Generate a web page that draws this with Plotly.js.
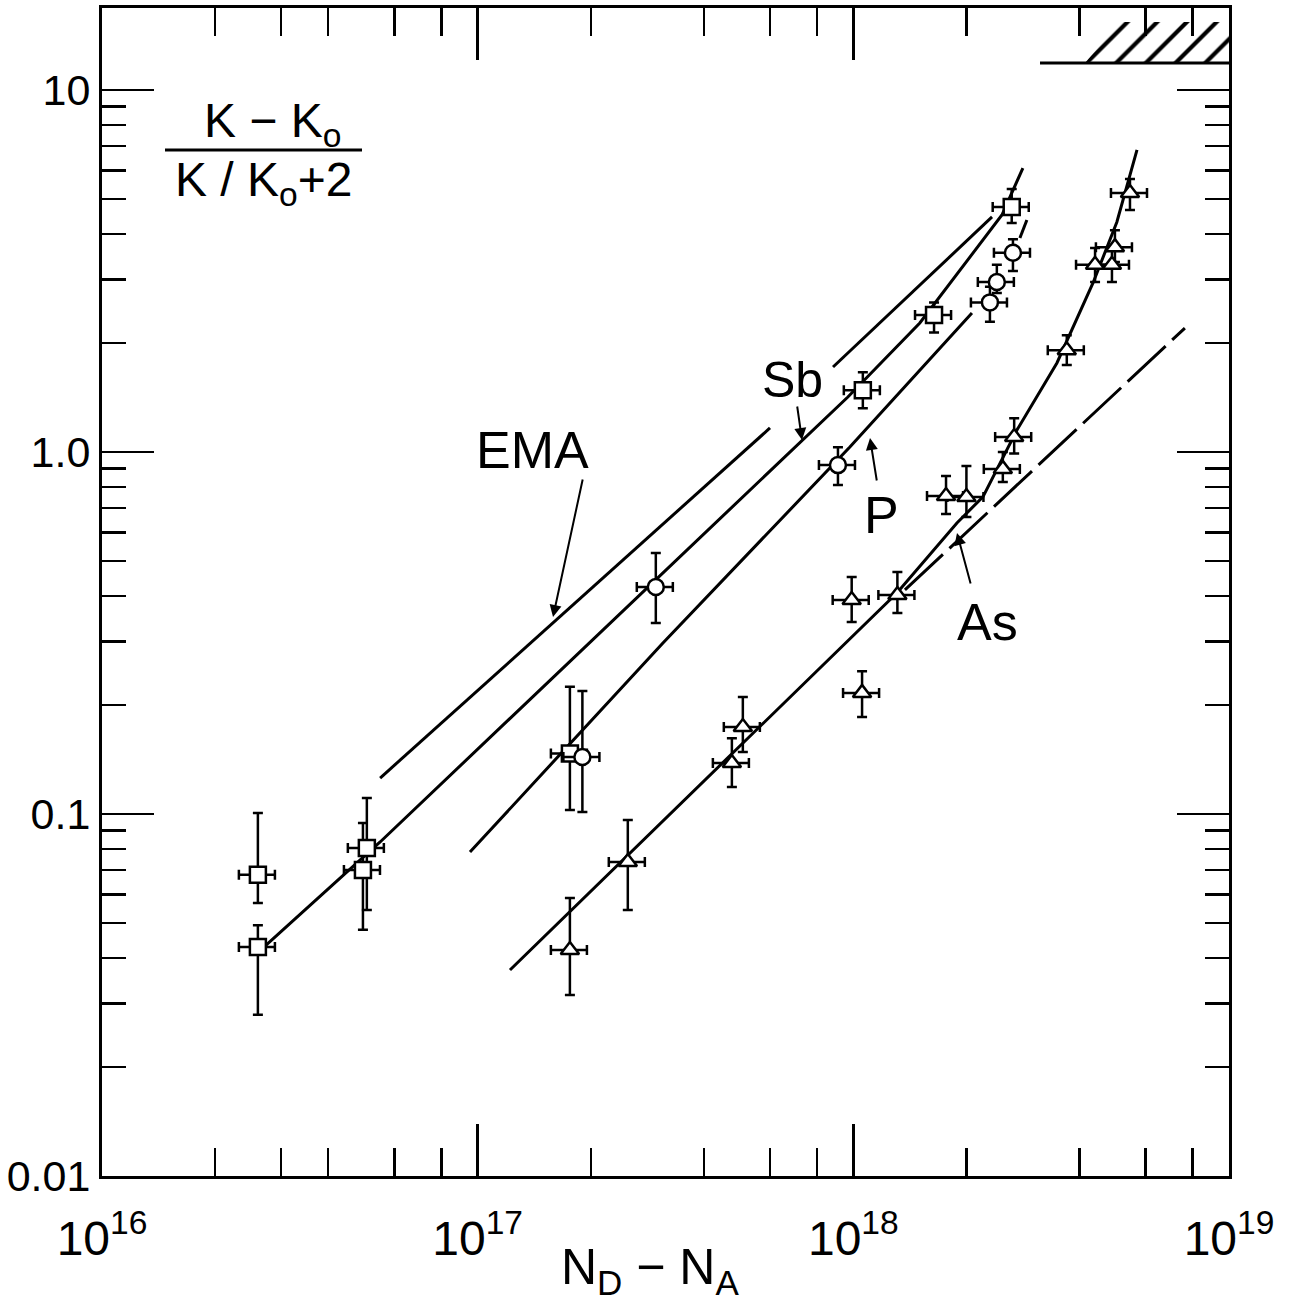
<!DOCTYPE html>
<html>
<head>
<meta charset="utf-8">
<script src="https://cdn.plot.ly/plotly-3.0.1.min.js"></script>
<style>html,body{margin:0;padding:0;background:#fff;}#chart{width:1292px;height:1305px;}</style>
</head>
<body>
<div id="chart"></div>
<script>
// ---- Sb (squares)
var sbX  = [2.6e16, 2.6e16, 4.95e16, 5.07e16, 1.76e17, 1.06e18, 1.64e18, 2.64e18];
var sbY  = [0.0679, 0.0429, 0.070, 0.0805, 0.147, 1.48, 2.39, 4.75];
var sbHi = [0.1007, 0.0493, 0.0944, 0.1107, 0.2245, 1.66, 2.59, 5.33];
var sbLo = [0.0568, 0.0279, 0.0479, 0.0543, 0.1026, 1.32, 2.14, 4.29];
// ---- P (circles)
var pX  = [1.90e17, 2.98e17, 9.1e17, 2.31e18, 2.41e18, 2.66e18];
var pY  = [0.1437, 0.4236, 0.92, 2.59, 2.95, 3.55];
var pHi = [0.2187, 0.526, 1.03, 2.86, 3.29, 3.87];
var pLo = [0.1013, 0.337, 0.811, 2.29, 2.75, 3.16];
// ---- As (triangles)
var asX  = [1.76e17, 2.51e17, 4.75e17, 5.08e17, 9.9e17, 1.055e18, 1.31e18, 1.765e18, 2.0e18, 2.5e18, 2.68e18, 3.70e18, 4.40e18, 4.88e18, 4.97e18, 5.45e18];
var asY  = [0.0421, 0.0737, 0.1383, 0.1739, 0.390, 0.216, 0.4027, 0.756, 0.751, 0.898, 1.10, 1.91, 3.29, 3.29, 3.68, 5.19];
var asHi = [0.0586, 0.0963, 0.162, 0.2104, 0.4516, 0.248, 0.466, 0.859, 0.915, 1.0, 1.24, 2.10, 3.66, 3.61, 4.10, 5.68];
var asLo = [0.0316, 0.0543, 0.1187, 0.1484, 0.339, 0.1854, 0.359, 0.674, 0.661, 0.826, 0.99, 1.74, 2.95, 2.95, 3.35, 4.66];
// ---- curves
var emaX = [5.50e16, 6.0e17, null, 8.83e17, 2.34e18];
var emaY = [0.1257, 1.165, null, 1.717, 4.46];
var sbCurveX = [2.72e16, 4.49e16, 5.50e16, 9.67e17, 1.503e18, 2.486e18, 2.827e18];
var sbCurveY = [0.0432, 0.0691, 0.0837, 1.419, 2.272, 4.515, 6.087];
var pCurveX = [9.54e16, 3.113e17, 9.79e17, 2.069e18, null, 2.776e18, 2.897e18];
var pCurveY = [0.0785, 0.2968, 1.032, 2.421, null, 3.902, 4.375];
var asCurveX = [1.219e17, 1.306e18, 1.887e18, 2.213e18, 2.726e18, 3.483e18, 4.345e18, 5.03e18, 5.69e18];
var asCurveY = [0.03707, 0.4077, 0.637, 0.7516, 1.150, 1.762, 2.930, 4.319, 6.83];
var asEmaX = [1.372e18, 7.63e18];
var asEmaY = [0.4158, 2.20];
// ---- limit (hatched) region
var limX = [3.14e18, 1e19];
var limY = [11.88, 11.88];
var hatchX = [4.135e18, 1e19, 1e19, 5.125e18];
var hatchY = [11.88, 11.88, 15.41, 15.41];
// ---- ticks
var xMajor = [1e16, 1e17, 1e18, 1e19];
var xMajorText = ['10<sup>16</sup>', '10<sup>17</sup>', '10<sup>18</sup>', '10<sup>19</sup>'];
var xMinor = [2e16, 3e16, 4e16, 6e16, 8e16, 2e17, 4e17, 6e17, 8e17, 2e18, 4e18, 6e18, 8e18];
var yMajor = [0.01, 0.1, 1, 10];
var yMajorText = ['0.01', '0.1', '1.0', '10'];
var yMinor = [0.02,0.03,0.04,0.05,0.06,0.07,0.08,0.09,0.2,0.3,0.4,0.5,0.6,0.7,0.8,0.9,2,3,4,5,6,7,8,9];

function diff(a, b) { return a.map(function (v, i) { return v - b[i]; }); }

function curve(x, y, dash) {
  return {x: x, y: y, type: 'scatter', mode: 'lines', connectgaps: false,
          line: {color: 'black', width: 3, dash: dash || 'solid'}, hoverinfo: 'skip'};
}
function pts(x, y, hi, lo, sym) {
  return {
    x: x, y: y, type: 'scatter', mode: 'markers',
    marker: {symbol: sym, size: 16, color: 'white', line: {color: 'black', width: 2.5}},
    error_y: {type: 'data', symmetric: false, array: diff(hi, y), arrayminus: diff(y, lo),
              color: 'black', thickness: 2.5, width: 5},
    error_x: {type: 'percent', value: 11, color: 'black', thickness: 2.5, width: 5}
  };
}

var traces = [
  {x: hatchX, y: hatchY, type: 'scatter', mode: 'none', fill: 'toself',
   fillcolor: 'white',
   fillpattern: {shape: '/', size: 21, solidity: 0.2, fgcolor: 'black', bgcolor: 'white'}},
  curve(limX, limY),
  curve(emaX, emaY),
  curve(sbCurveX, sbCurveY),
  curve(pCurveX, pCurveY),
  curve(asCurveX, asCurveY),
  curve(asEmaX, asEmaY, '52px,9px'),
  pts(sbX, sbY, sbHi, sbLo, 'square'),
  pts(pX, pY, pHi, pLo, 'circle'),
  pts(asX, asY, asHi, asLo, 'triangle-up')
];

var fam = 'Liberation Sans, Arial, sans-serif';
var tickFontX = {family: fam, size: 48, color: 'black'};
var tickFontY = {family: fam, size: 43, color: 'black'};

function px(v) { return (v - 102) / 1127; }
function py(v) { return (1176 - v) / 1168; }
function label(x, y, text, size) {
  return {xref: 'paper', yref: 'paper', x: px(x), y: py(y), text: text, showarrow: false,
          xanchor: 'center', yanchor: 'middle', font: {family: fam, size: size, color: 'black'}};
}
function arrow(x, y, ax, ay) {
  return {xref: 'paper', yref: 'paper', x: px(x), y: py(y), ax: ax, ay: ay, text: '', showarrow: true,
          arrowhead: 2, arrowsize: 1.2, arrowwidth: 2, arrowcolor: 'black'};
}

var layout = {
  width: 1292, height: 1305,
  margin: {l: 102, r: 63, t: 8, b: 129},
  paper_bgcolor: 'white', plot_bgcolor: 'white',
  showlegend: false,
  xaxis: {
    type: 'log', range: [16, 19], showgrid: false, zeroline: false,
    showline: true, linecolor: 'black', linewidth: 3, mirror: 'allticks',
    ticks: 'inside', ticklen: 52, tickwidth: 2.5, tickcolor: 'black',
    tickvals: xMajor, ticktext: xMajorText, tickfont: tickFontX, ticklabelstandoff: 18,
    minor: {tickvals: xMinor, ticks: 'inside', ticklen: 28, tickwidth: 2.5, tickcolor: 'black'}
  },
  yaxis: {
    type: 'log', range: [-2, 1.2265], showgrid: false, zeroline: false,
    showline: true, linecolor: 'black', linewidth: 3, mirror: 'allticks',
    ticks: 'inside', ticklen: 52, tickwidth: 2.5, tickcolor: 'black',
    tickvals: yMajor, ticktext: yMajorText, tickfont: tickFontY, ticklabelstandoff: 0,
    minor: {tickvals: yMinor, ticks: 'inside', ticklen: 24, tickwidth: 2.5, tickcolor: 'black'}
  },
  shapes: [
    {type: 'line', xref: 'paper', yref: 'paper', x0: px(165), x1: px(362), y0: py(150), y1: py(150),
     line: {color: 'black', width: 3}}
  ],
  annotations: [
    label(272, 124, 'K − K<sub>o</sub>', 48),
    label(263, 183, 'K / K<sub>o</sub>+2', 48),
    label(532, 450, 'EMA', 52),
    label(792, 380, 'Sb', 50),
    label(881, 515, 'P', 52),
    label(987, 622, 'As', 52),
    label(650, 1270, 'N<sub>D</sub> − N<sub>A</sub>', 50),
    arrow(553, 617, 30, -139),
    arrow(802, 440, -5, -35),
    arrow(870, 438, 7, 44),
    arrow(957, 533, 14, 52)
  ]
};

Plotly.newPlot('chart', traces, layout, {staticPlot: true, displayModeBar: false});
</script>
</body>
</html>
